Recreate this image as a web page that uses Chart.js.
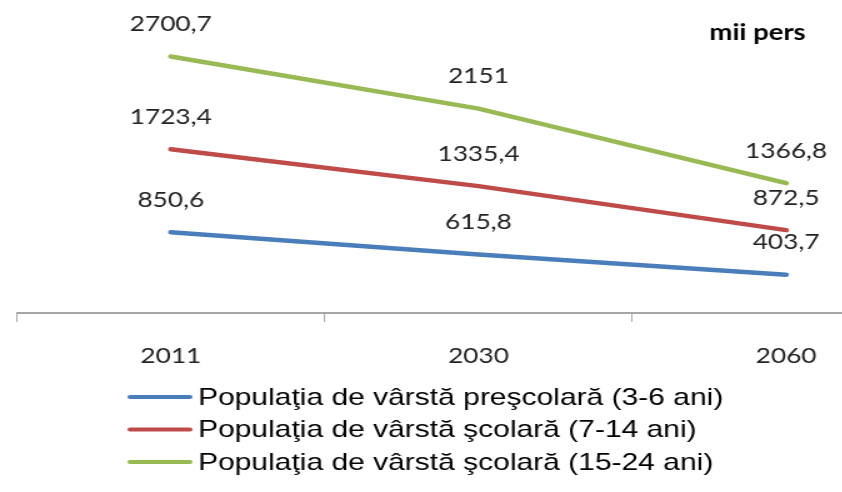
<!DOCTYPE html>
<html>
<head>
<meta charset="utf-8">
<script src="https://cdn.jsdelivr.net/npm/chart.js@4.4.1/dist/chart.umd.min.js"></script>
<style>
  html, body { margin: 0; padding: 0; background: #fff; overflow: hidden; }
  #wrap { width: 842px; height: 492px; overflow: hidden; }
  /* the source picture is stretched sideways, so stretch the canvas too */
  #stretch { width: 752px; height: 492px; transform: scaleX(1.25); transform-origin: 0 0; }
</style>
</head>
<body>
<div id="wrap"><div id="stretch"><canvas id="lineChart" width="752" height="492"></canvas></div></div>
<script>
  const years = ['2011', '2030', '2060'];
  const prescolar = [850.6, 615.8, 403.7];
  const scolar714 = [1723.4, 1335.4, 872.5];
  const scolar1524 = [2700.7, 2151, 1366.8];
  const seriesNames = [
      'Populaţia de vârstă preşcolară (3-6 ani)',
      'Populaţia de vârstă şcolară (7-14 ani)',
      'Populaţia de vârstă şcolară (15-24 ani)'
  ];
  const unitLabel = 'mii pers';

  // value above every point + unit text
  const valueLabels = {
      id: 'valueLabels',
      afterDatasetsDraw(chart) {
          const ctx = chart.ctx;
          ctx.save();
          ctx.font = '21px Lato';
          ctx.fillStyle = '#222';
          ctx.textAlign = 'center';
          ctx.textBaseline = 'middle';
          chart.data.datasets.forEach((ds, i) => {
              chart.getDatasetMeta(i).data.forEach((pt, j) => {
                  ctx.fillText(String(ds.data[j]).replace('.', ','), pt.x, pt.y - 32);
              });
          });
          ctx.font = 'bold 22px Lato';
          ctx.fillStyle = '#000';
          ctx.fillText(unitLabel, 606, 33);
          ctx.restore();
      }
  };

  // legend as a left-aligned column under the axis
  const columnLegend = {
      id: 'columnLegend',
      afterDraw(chart) {
          const ctx = chart.ctx;
          const top = chart.chartArea.bottom + 84;
          ctx.save();
          ctx.font = '24px "Liberation Sans", Arial, sans-serif';
          ctx.textAlign = 'left';
          ctx.textBaseline = 'middle';
          ctx.lineCap = 'round';
          chart.data.datasets.forEach((ds, i) => {
              const y = top + i * 32.5;
              ctx.strokeStyle = ds.borderColor;
              ctx.lineWidth = 4;
              ctx.beginPath();
              ctx.moveTo(104, y);
              ctx.lineTo(152, y);
              ctx.stroke();
              ctx.fillStyle = '#000';
              ctx.fillText(ds.label, 158.4, y + 1);
          });
          ctx.restore();
      }
  };

  const ctx1 = document.getElementById('lineChart').getContext('2d');
  new Chart(ctx1, {
      type: 'line',
      data: {
          labels: years,
          datasets: [{
              label: seriesNames[0],
              data: prescolar,
              borderColor: '#4a7ebb',
              borderWidth: 4.5
          }, {
              label: seriesNames[1],
              data: scolar714,
              borderColor: '#be4b48',
              borderWidth: 4.5
          }, {
              label: seriesNames[2],
              data: scolar1524,
              borderColor: '#98b954',
              borderWidth: 4.5
          }]
      },
      options: {
          responsive: false,
          animation: false,
          layout: {
              padding: { top: 28, left: 13.6, right: 0, bottom: 122 }
          },
          elements: {
              point: { radius: 0 },
              line: { tension: 0, fill: false, borderCapStyle: 'round' }
          },
          scales: {
              x: {
                  offset: true,
                  afterFit(scale) { scale.height = 57; },
                  grid: {
                      offset: true,
                      drawOnChartArea: false,
                      drawTicks: true,
                      tickLength: 9,
                      color: '#a6a6a6'
                  },
                  border: { color: '#a6a6a6', width: 2 },
                  ticks: {
                      padding: 22,
                      color: '#222',
                      font: { family: 'Lato', size: 21 }
                  }
              },
              y: {
                  display: false,
                  min: 0,
                  max: 3000
              }
          },
          plugins: {
              legend: { display: false },
              tooltip: { enabled: false }
          }
      },
      plugins: [valueLabels, columnLegend]
  });
</script>
</body>
</html>
